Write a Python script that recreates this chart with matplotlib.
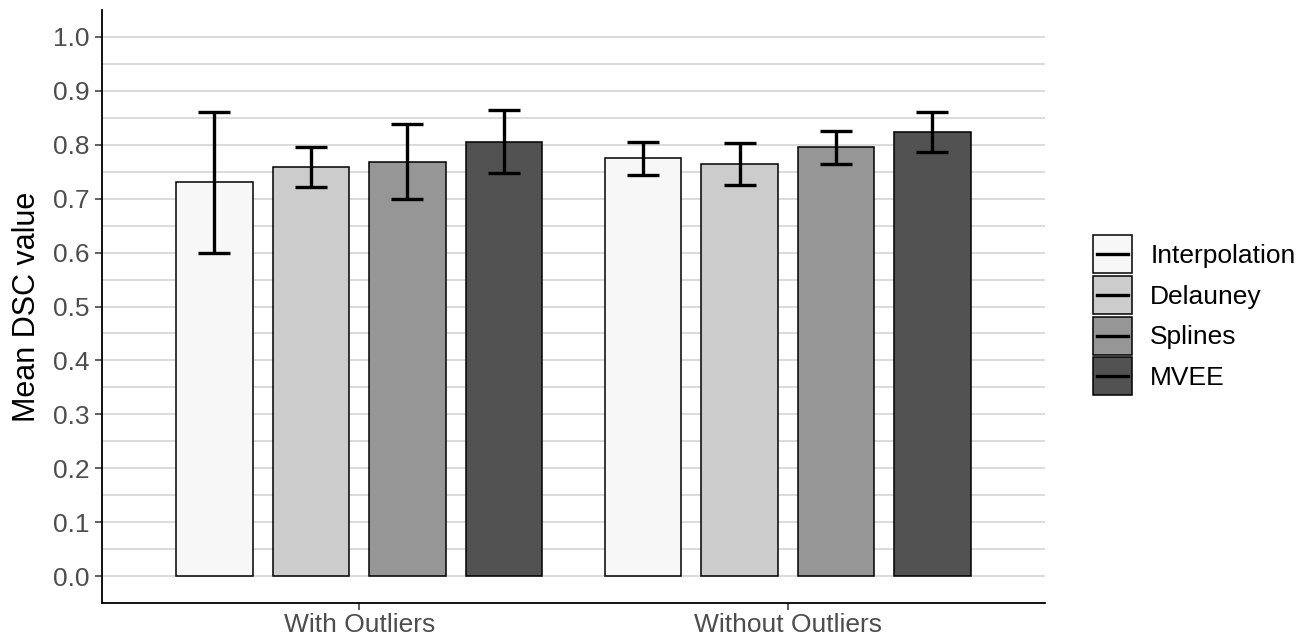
import numpy as np
import matplotlib
matplotlib.use("Agg")
import matplotlib.pyplot as plt
from matplotlib.patches import Patch
from matplotlib.lines import Line2D
from matplotlib.legend_handler import HandlerBase

plt.rcParams['font.family'] = ['Liberation Sans', 'DejaVu Sans']

# data
groups = ["With Outliers", "Without Outliers"]
methods = ["Interpolation", "Delauney", "Splines", "MVEE"]
colors = ["#f7f7f7", "#cccccc", "#969696", "#525252"]

means = {
    "Interpolation": [0.731, 0.776],
    "Delauney": [0.759, 0.765],
    "Splines": [0.769, 0.796],
    "MVEE": [0.806, 0.824],
}
upper = {
    "Interpolation": [0.860, 0.806],
    "Delauney": [0.796, 0.803],
    "Splines": [0.839, 0.825],
    "MVEE": [0.864, 0.860],
}
lower = {
    "Interpolation": [0.599, 0.744],
    "Delauney": [0.722, 0.725],
    "Splines": [0.699, 0.765],
    "MVEE": [0.748, 0.787],
}


class KeyLine(HandlerBase):
    # horizontal errorbar stroke centred in the legend key box
    def create_artists(self, legend, orig_handle, xdescent, ydescent,
                       width, height, fontsize, trans):
        pad = 0.16 * fontsize
        y = height / 2 - ydescent
        line = Line2D([-xdescent + pad, -xdescent + width - pad], [y, y],
                      color=orig_handle.get_color(),
                      linewidth=orig_handle.get_linewidth())
        line.set_transform(trans)
        return [line]


fig = plt.figure(figsize=(13.09, 6.43), dpi=100)
ax = fig.add_axes([0.0779, 0.0622, 0.7204, 0.9222])

x = np.arange(1, len(groups) + 1)
pitch = 0.225
width = 0.178
handles = []
for i, m in enumerate(methods):
    pos = x + (i - 1.5) * pitch
    mu = np.array(means[m])
    hi = np.array(upper[m])
    lo = np.array(lower[m])
    ax.bar(pos, mu, width=width, color=colors[i], edgecolor="black",
           linewidth=1.1, zorder=2)
    ax.errorbar(pos, mu, yerr=[mu - lo, hi - mu], fmt="none", ecolor="black",
                elinewidth=2.4, capsize=11.5, capthick=2.4, zorder=3)
    handles.append((Patch(facecolor=colors[i], edgecolor="black", linewidth=1.1),
                    Line2D([], [], color="black", linewidth=2.4)))

ax.set_xlim(0.4, 2.6)
ax.set_ylim(-0.05, 1.05)
ax.set_yticks(np.arange(0, 1.01, 0.1))
ax.set_yticks(np.arange(0.05, 1.05, 0.1), minor=True)
ax.set_yticklabels([f"{v:.1f}" for v in np.arange(0, 1.01, 0.1)])
ax.set_xticks(x)
ax.set_xticklabels(groups)

ax.grid(axis="y", which="major", color="#d4d4d4", linewidth=1.2, zorder=0)
ax.grid(axis="y", which="minor", color="#d4d4d4", linewidth=1.2, zorder=0)
ax.set_axisbelow(True)

for s in ["top", "right"]:
    ax.spines[s].set_visible(False)
for s in ["left", "bottom"]:
    ax.spines[s].set_linewidth(1.3)
    ax.spines[s].set_color("black")

ax.tick_params(axis="both", which="major", labelsize=19, labelcolor="#4d4d4d",
               color="#333333", length=5, width=1.1, pad=4)
ax.tick_params(axis="y", which="minor", length=0)
ax.tick_params(axis="x", pad=2)
ax.set_ylabel("Mean DSC value", fontsize=22, labelpad=8)

ax.legend(handles, methods, loc="center left", bbox_to_anchor=(1.040, 0.485),
          frameon=False, fontsize=19, handlelength=1.48, handleheight=1.84,
          labelspacing=0.1, handletextpad=0.68, borderaxespad=0,
          handler_map={Line2D: KeyLine()})

fig.savefig("out.png", dpi=100)
